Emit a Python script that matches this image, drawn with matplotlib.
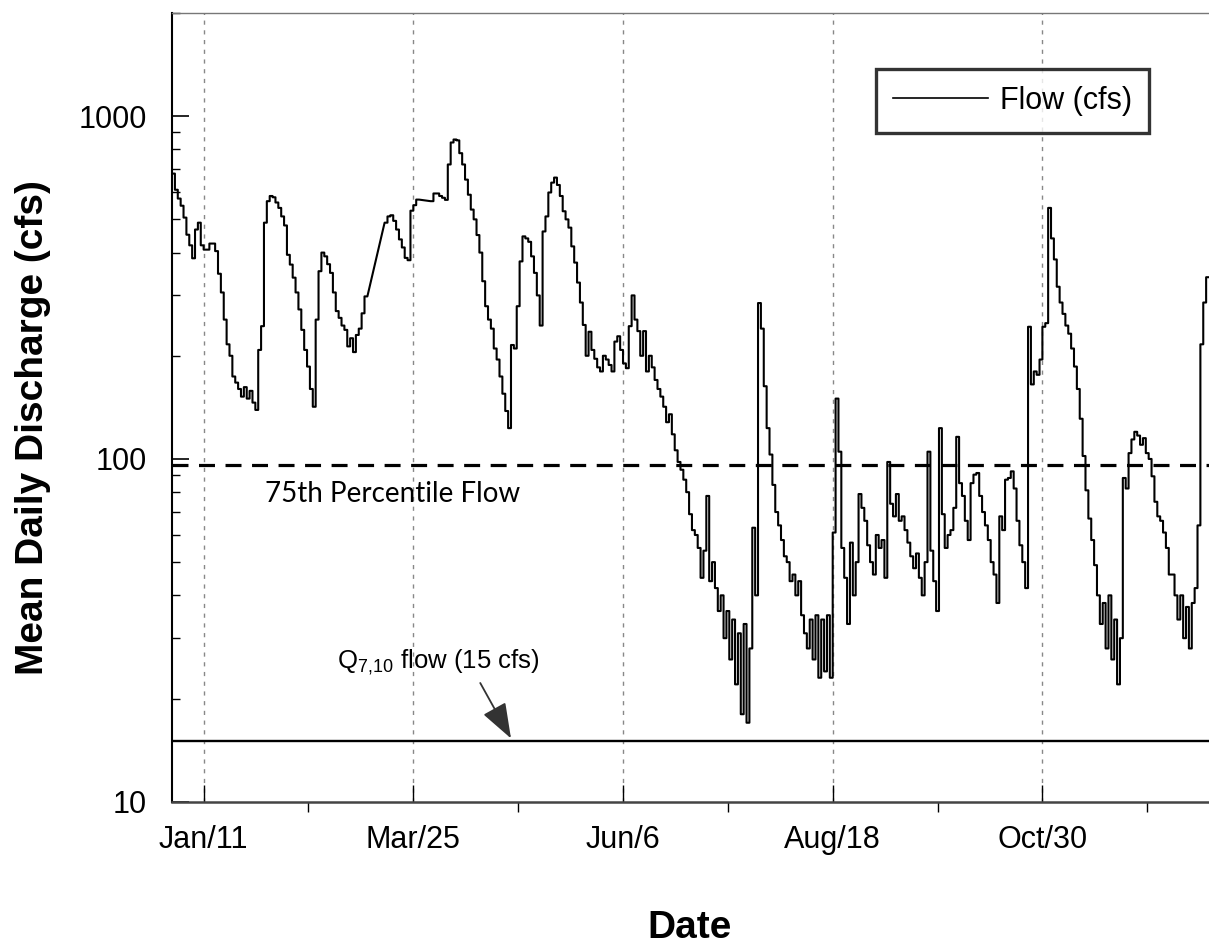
import numpy as np
import matplotlib
matplotlib.use("Agg")
import matplotlib.pyplot as plt
from matplotlib.ticker import FixedLocator, LogLocator, NullFormatter

plt.rcParams['font.family'] = ['Liberation Sans', 'DejaVu Sans']
plt.rcParams['mathtext.default'] = 'regular'

nan = np.nan

# mean daily discharge (cfs), one value per day starting Jan 1; nan = no record
flow_jan_feb = [680, 610, 575, 548, 506, 451, 420, 385, 467, 489,
                420, 408, 408, 425, 425, 404, 347, 306, 255, 216,
                200, 174, 167, 160, 152, 162, 150, 158, 146, 139,
                208, 244, 489, 565, 585, 580, 560, 540, 510, 480,
                394, 369, 338, 306, 273, 238, 208, 186, 160, 142,
                255, 353, 400, 390, 370, 349, 306, 270, 258]
flow_mar_apr = [245, 238, 213, 225, 205, 230, 240, 266, 298, nan,
                nan, nan, nan, nan, nan, 489, 510, 514, 495, 467,
                437, 414, 386, 380, 530, 550, 571, nan, nan, nan,
                nan, 565, 595, 595, 585, 578, 570, 723, 838, 855,
                850, 780, 723, 653, 590, 534, 500, 450, 400, 330,
                279, 255, 240, 210, 195, 174, 155, 138, 123, 215,
                210]
flow_may_jun = [279, 377, 446, 440, 430, 390, 349, 300, 245, 461,
                510, 599, 640, 662, 630, 585, 528, 500, 473, 417,
                374, 327, 286, 246, 200, 235, 208, 196, 185, 180,
                200, 195, 188, 180, 220, 228, 208, 190, 184, 244,
                300, 255, 236, 200, 236, 180, 200, 185, 170, 160,
                152, 142, 128, 135, 118, 106, 98, 93, 87, 80,
                69]
flow_jul_aug = [62, 60, 55, 45, 54, 78, 44, 50, 42, 36,
                40, 30, 36, 26, 34, 22, 31, 18, 33, 17,
                28, 63, 40, 285, 240, 163, 123, 103, 84, 70,
                64, 58, 52, 50, 44, 46, 40, 44, 35, 31,
                28, 34, 26, 35, 23, 34, 24, 35, 23, 61,
                150, 105, 55, 45, 33, 57, 40, 50, 79, 72,
                66, 56]
flow_sep_oct = [50, 46, 60, 55, 58, 45, 98, 74, 68, 79,
                66, 68, 62, 57, 52, 48, 53, 45, 40, 50,
                105, 54, 44, 36, 123, 69, 55, 60, 62, 72,
                116, 85, 78, 66, 58, 85, 90, 91, 78, 70,
                64, 58, 50, 46, 38, 68, 62, 87, 88, 92,
                82, 66, 56, 50, 42, 243, 165, 180, 176, 195,
                243]
flow_nov_dec = [249, 540, 440, 382, 318, 286, 265, 245, 232, 210,
                186, 160, 131, 102, 81, 67, 58, 49, 40, 33,
                38, 28, 40, 26, 34, 22, 30, 88, 82, 104,
                114, 120, 117, 110, 115, 104, 100, 89, 75, 68,
                66, 61, 55, 46, 46, 40, 34, 40, 30, 37,
                28, 38, 42, 64, 216, 286, 339]

pct75_flow = 96
q710_flow = 15

tick_days = [11, 84, 157, 230, 303]
tick_labels = ['Jan/11', 'Mar/25', 'Jun/6', 'Aug/18', 'Oct/30']
minor_days = [47.5, 120.5, 193.5, 266.5, 339.5]

flow = np.array(flow_jan_feb + flow_mar_apr + flow_may_jun +
                flow_jul_aug + flow_sep_oct + flow_nov_dec, dtype=float)
day = np.arange(len(flow))

# daily steps; missing days get bridged by a straight segment
ok = ~np.isnan(flow)
xs = np.column_stack([day[ok], day[ok] + 1]).ravel()
ys = np.repeat(flow[ok], 2)

fig = plt.figure(figsize=(12.09, 9.49), dpi=100)
ax = fig.add_axes([0.1423, 0.1552, 0.8577, 0.8311])

ax.plot(xs, ys, color='black', lw=1.5, label='Flow (cfs)', zorder=3)
ax.axhline(pct75_flow, color='black', lw=2.3, ls=(0, (5, 3.3)), zorder=2)
ax.axhline(q710_flow, color='black', lw=1.7, zorder=2)

ax.set_yscale('log')
ax.set_ylim(10, 2000)
ax.set_xlim(0, len(flow))

ax.set_yticks([10, 100, 1000])
ax.set_yticklabels(['10', '100', '1000'])
ax.yaxis.set_minor_locator(LogLocator(base=10, subs=np.arange(2, 10)))
ax.yaxis.set_minor_formatter(NullFormatter())
ax.tick_params(axis='y', which='major', direction='in', length=12, width=1.2,
               labelsize=22, pad=18)
ax.tick_params(axis='y', which='minor', direction='in', length=6, width=1.0)

ax.xaxis.set_major_locator(FixedLocator(tick_days))
ax.set_xticklabels(tick_labels)
ax.xaxis.set_minor_locator(FixedLocator(minor_days))
ax.tick_params(axis='x', which='major', direction='in', length=12, width=1.0,
               labelsize=22, pad=17, colors='black')
ax.tick_params(axis='x', which='minor', direction='out', length=7, width=1.0)
ax.tick_params(top=False, right=False)

ax.grid(axis='x', which='major', color='#888888', lw=1.0, ls=(0, (3, 4)))

ax.spines['right'].set_visible(False)
ax.spines['left'].set_linewidth(1.5)
ax.spines['bottom'].set_linewidth(1.8)
ax.spines['bottom'].set_color('#444444')
ax.spines['top'].set_linewidth(1.0)
ax.spines['top'].set_color('#777777')

fig.text(33.5 / 1209, 1 - 428 / 949, 'Mean Daily Discharge (cfs)',
         fontsize=28, fontweight='bold', rotation=90, ha='center', va='center')
fig.text(690 / 1209, 1 - 928 / 949, 'Date', fontsize=28, fontweight='bold',
         ha='center', va='center')

ax.text(76.7, 79, '75th Percentile Flow', family=['Lato', 'DejaVu Sans'],
        fontsize=20, ha='center', va='center')
ax.text(57.5, 24.5, r'$Q_{7{,}10}$ flow (15 cfs)', fontsize=18.5,
        ha='left', va='baseline')
ax.annotate('', xy=(118, 15.3), xytext=(107.3, 22.2),
            arrowprops=dict(arrowstyle='-|>,head_length=2.2,head_width=0.8',
                            color='#333333', lw=1.3, shrinkA=0, shrinkB=0))

leg = ax.legend(loc='upper right', bbox_to_anchor=(0.942, 0.929), fontsize=22,
                frameon=True, fancybox=False, handlelength=3.1,
                borderpad=0.55, borderaxespad=0, handletextpad=0.4)
leg.get_frame().set_edgecolor('black')
leg.get_frame().set_linewidth(2.4)
leg.get_lines()[0].set_linewidth(1.2)

fig.savefig('out.png', dpi=100)
